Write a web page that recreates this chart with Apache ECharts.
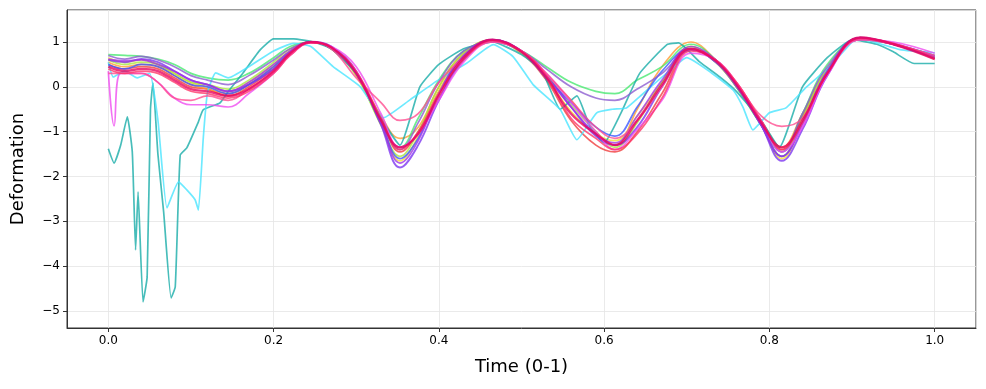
<!DOCTYPE html>
<html>
<head>
<meta charset="utf-8">
<script src="https://cdn.jsdelivr.net/npm/echarts@6/dist/echarts.min.js"></script>
<style>html,body{margin:0;padding:0;background:#fff}#c{width:986px;height:389px}</style>
</head>
<body>
<div id="c"></div>
<script>
// shared time grid for the regular curves
const xs = [0,0.02,0.04,0.06,0.08,0.1,0.12,0.145,0.17,0.2,0.22,0.245,0.27,0.3,0.33,0.353,0.375,0.4,0.43,0.465,0.5,0.53,0.56,0.59,0.613,0.64,0.67,0.705,0.735,0.76,0.79,0.815,0.84,0.87,0.91,0.95,1.0];

const redY     = [0.5,0.4,0.45,0.4,0.2,0.0,-0.05,-0.2,0.0,0.4,0.75,1.0,0.85,0.3,-0.75,-1.45,-1.0,-0.1,0.7,1.05,0.75,0.15,-0.75,-1.3,-1.45,-1.0,-0.15,0.85,0.6,0.05,-0.8,-1.4,-0.65,0.35,1.08,0.95,0.62];
const orangeY  = [0.55,0.45,0.5,0.45,0.25,0.05,-0.05,-0.15,0.05,0.45,0.8,1.0,0.85,0.3,-0.65,-1.15,-0.9,0.0,0.75,1.05,0.8,0.25,-0.3,-1.0,-1.3,-0.5,0.45,1.0,0.6,0.05,-0.75,-1.35,-0.6,0.4,1.08,0.95,0.65];
const yellowY  = [0.65,0.55,0.6,0.5,0.3,0.1,0.0,-0.1,0.1,0.5,0.8,1.0,0.85,0.25,-0.85,-1.65,-1.1,-0.1,0.7,1.05,0.75,0.2,-0.55,-1.05,-1.2,-0.65,0.1,0.9,0.55,0.0,-0.85,-1.6,-0.8,0.35,1.1,0.95,0.65];
const limeY    = [0.6,0.5,0.55,0.5,0.3,0.1,0.05,-0.05,0.15,0.55,0.85,1.0,0.85,0.25,-0.85,-1.55,-1.0,0.0,0.75,1.05,0.78,0.25,-0.4,-1.0,-1.35,-0.8,0.1,0.9,0.55,0.0,-0.85,-1.55,-0.7,0.4,1.08,0.95,0.65];
const greenY   = [0.72,0.7,0.68,0.62,0.5,0.3,0.2,0.15,0.3,0.65,0.9,1.0,0.85,0.3,-0.8,-1.35,-0.7,0.15,0.8,1.0,0.8,0.45,0.1,-0.1,-0.15,0.15,0.45,0.95,0.6,0.0,-0.85,-1.45,-0.6,0.5,1.05,0.95,0.7];
const blueY    = [0.5,0.4,0.5,0.45,0.25,0.05,0.0,-0.15,0.05,0.45,0.78,1.0,0.87,0.3,-0.8,-1.6,-1.15,-0.15,0.68,1.05,0.78,0.2,-0.35,-0.9,-1.1,-0.45,0.35,0.85,0.55,0.05,-0.85,-1.55,-0.8,0.35,1.1,0.95,0.65];
const purpleY  = [0.6,0.55,0.62,0.55,0.35,0.15,0.05,-0.1,0.05,0.4,0.75,1.0,0.9,0.35,-0.85,-1.8,-1.3,-0.3,0.6,1.05,0.8,0.25,-0.45,-1.1,-1.3,-0.9,0.0,0.82,0.6,0.05,-0.85,-1.65,-0.95,0.25,1.08,0.95,0.65];
const violetY  = [0.7,0.62,0.68,0.6,0.45,0.25,0.15,0.05,0.25,0.6,0.85,1.0,0.85,0.3,-0.8,-1.4,-0.8,0.1,0.8,1.0,0.8,0.4,0.0,-0.25,-0.3,-0.05,0.3,0.85,0.55,0.0,-0.8,-1.45,-0.6,0.45,1.05,0.95,0.7];
const hotpinkY = [0.3,0.3,0.3,0.1,-0.25,-0.3,-0.2,-0.3,-0.05,0.35,0.75,1.0,0.85,0.2,-0.35,-0.75,-0.6,0.1,0.65,1.0,0.8,0.3,-0.3,-0.9,-1.15,-0.75,0.0,0.85,0.6,0.1,-0.65,-0.88,-0.7,0.3,1.05,0.95,0.7];
const deeppurpleY = [0.62,0.58,0.6,0.5,0.35,0.15,0.05,-0.1,0.1,0.5,0.8,1.0,0.88,0.3,-0.8,-1.7,-1.2,-0.15,0.7,1.05,0.8,0.22,-0.45,-1.05,-1.25,-0.65,0.15,0.9,0.6,0.05,-0.85,-1.55,-0.85,0.35,1.1,0.97,0.68];
const pinkY    = [0.4,0.3,0.35,0.3,0.1,-0.1,-0.15,-0.25,-0.1,0.3,0.7,0.98,0.88,0.35,-0.7,-1.4,-1.0,-0.15,0.6,1.03,0.8,0.25,-0.7,-1.15,-1.4,-1.05,-0.25,0.8,0.6,0.1,-0.75,-1.4,-0.8,0.3,1.08,0.97,0.65];
const crimsonY = [0.45,0.35,0.4,0.35,0.15,-0.05,-0.1,-0.2,-0.05,0.35,0.75,1.0,0.88,0.3,-0.75,-1.35,-1.05,-0.2,0.65,1.05,0.78,0.2,-0.6,-1.05,-1.3,-0.75,0.05,0.85,0.58,0.05,-0.8,-1.35,-0.75,0.3,1.1,0.95,0.62];

// magenta curve (own grid, early dip)
const magentaX = [0,0.007,0.015,0.04,0.06,0.08,0.1,0.12,0.145,0.17,0.2,0.22,0.245,0.27,0.3,0.33,0.353,0.375,0.4,0.43,0.465,0.5,0.53,0.56,0.59,0.613,0.64,0.67,0.705,0.735,0.76,0.79,0.815,0.84,0.87,0.91,0.95,1.0];
const magentaY = [0.35,-0.87,0.3,0.3,0.1,-0.25,-0.4,-0.4,-0.45,-0.15,0.3,0.7,0.98,0.9,0.45,-0.6,-1.35,-1.05,-0.3,0.55,1.0,0.8,0.3,-0.35,-1.0,-1.4,-0.95,-0.3,0.75,0.6,0.1,-0.75,-1.45,-0.9,0.25,1.05,1.0,0.75];

// teal curve (own grid, large early spikes)
const tealX = [0,0.007,0.015,0.023,0.029,0.033,0.036,0.042,0.047,0.051,0.054,0.06,0.067,0.076,0.081,0.087,0.095,0.109,0.115,0.135,0.144,0.163,0.184,0.2,0.224,0.248,0.27,0.3,0.33,0.353,0.377,0.4,0.43,0.465,0.5,0.525,0.547,0.567,0.583,0.6,0.62,0.643,0.676,0.69,0.716,0.74,0.76,0.79,0.812,0.84,0.87,0.9,0.93,0.95,0.975,1.0];
const tealY = [-1.38,-1.7,-1.3,-0.67,-1.45,-3.64,-2.34,-4.8,-4.24,-0.5,0.09,-1.5,-2.8,-4.71,-4.46,-1.52,-1.36,-0.78,-0.51,-0.36,-0.13,0.31,0.83,1.07,1.07,1.0,0.85,0.3,-0.7,-1.3,0.0,0.5,0.85,1.0,0.72,0.35,-0.5,-0.2,-0.9,-1.25,-0.6,0.3,0.94,0.98,0.55,0.22,-0.1,-0.75,-1.35,0.0,0.65,1.05,0.95,0.78,0.52,0.52];

// cyan curve (own grid)
const cyanX = [0,0.006,0.02,0.035,0.05,0.06,0.071,0.085,0.095,0.105,0.109,0.115,0.12,0.13,0.145,0.17,0.2,0.224,0.245,0.272,0.305,0.333,0.365,0.4,0.434,0.466,0.49,0.514,0.547,0.567,0.591,0.61,0.627,0.643,0.676,0.7,0.73,0.756,0.768,0.78,0.8,0.82,0.845,0.873,0.9,0.91,0.958,1.0];
const cyanY = [0.55,0.22,0.35,0.2,0.3,-0.74,-2.7,-2.12,-2.3,-2.52,-2.75,-1.12,-0.13,0.31,0.2,0.45,0.8,0.97,0.9,0.45,0.0,-0.69,-0.29,0.16,0.53,0.94,0.67,0.05,-0.51,-1.18,-0.58,-0.5,-0.47,-0.22,0.31,0.65,0.31,-0.07,-0.45,-0.96,-0.58,-0.47,0.0,0.45,1.0,1.07,0.83,0.76];

const xTickLabels = ['0.0','0.2','0.4','0.6','0.8','1.0'];

const curves = [
  {x: xs, y: redY, c: '#f03a3a', w: 1.7},
  {x: xs, y: orangeY, c: '#ff9a30', w: 1.7},
  {x: xs, y: yellowY, c: '#f2e033', w: 1.7},
  {x: xs, y: limeY, c: '#a8e83a', w: 1.7},
  {x: xs, y: greenY, c: '#45e86e', w: 1.7},
  {x: tealX, y: tealY, c: '#13aaa6', w: 1.7, sharp: true},
  {x: cyanX, y: cyanY, c: '#45e4ff', w: 1.7, sharp: true},
  {x: xs, y: blueY, c: '#3a55ff', w: 1.7},
  {x: xs, y: violetY, c: '#8a5ad0', w: 1.7},
  {x: xs, y: purpleY, c: '#7a32f0', w: 1.9},
  {x: xs, y: deeppurpleY, c: '#a030e8', w: 1.7},
  {x: magentaX, y: magentaY, c: '#ee48f0', w: 1.7},
  {x: xs, y: hotpinkY, c: '#ff4a8e', w: 1.7},
  {x: xs, y: pinkY, c: '#ff3366', w: 1.7},
  {x: xs, y: crimsonY, c: '#e8005e', w: 2.4}
];

const chart = echarts.init(document.getElementById('c'), null, {renderer: 'canvas'});
const font = 'DejaVu Sans';
chart.setOption({
  animation: false,
  backgroundColor: '#fff',
  grid: {left: 67, right: 10, top: 10, bottom: 61, show: true, borderColor: '#333', borderWidth: 1, backgroundColor: 'transparent'},
  xAxis: {
    type: 'value', min: -0.05, max: 1.05, splitNumber: 5,
    name: 'Time (0-1)', nameLocation: 'middle', nameGap: 30,
    nameTextStyle: {fontFamily: font, fontSize: 18, color: '#000'},
    axisLine: {show: true, onZero: false, lineStyle: {color: '#333', width: 1}},
    axisTick: {show: true, inside: false, length: 4, lineStyle: {color: '#333'}},
    axisLabel: {fontFamily: font, fontSize: 12, color: '#000', margin: 7, showMinLabel: false, showMaxLabel: false,
      formatter: v => { const s = v.toFixed(1); return xTickLabels.includes(s) ? s : ''; }},
    splitLine: {show: true, lineStyle: {color: '#e4e4e4', width: 0.8}}
  },
  yAxis: {
    type: 'value', min: -5.38, max: 1.714, splitNumber: 7,
    name: 'Deformation', nameLocation: 'middle', nameGap: 40,
    nameTextStyle: {fontFamily: font, fontSize: 18, color: '#000'},
    axisLine: {show: true, onZero: false, lineStyle: {color: '#333', width: 1}},
    axisTick: {show: true, inside: false, length: 4, lineStyle: {color: '#333'}},
    axisLabel: {fontFamily: font, fontSize: 12, color: '#000', margin: 7, showMinLabel: false, showMaxLabel: false,
      formatter: v => (Math.abs(v - Math.round(v)) < 1e-6 ? String(Math.round(v)).replace('-', '\u2212') : '')},
    splitLine: {show: true, lineStyle: {color: '#e4e4e4', width: 0.8}}
  },
  series: curves.map(s => ({
    type: 'line',
    data: s.x.map((x, i) => [x, s.y[i]]),
    showSymbol: false,
    smooth: s.sharp ? 0.15 : 0.4,
    lineStyle: {color: s.c, width: s.w, opacity: 0.78},
    itemStyle: {color: s.c},
    emphasis: {disabled: true},
    clip: true
  }))
});
</script>
</body>
</html>
